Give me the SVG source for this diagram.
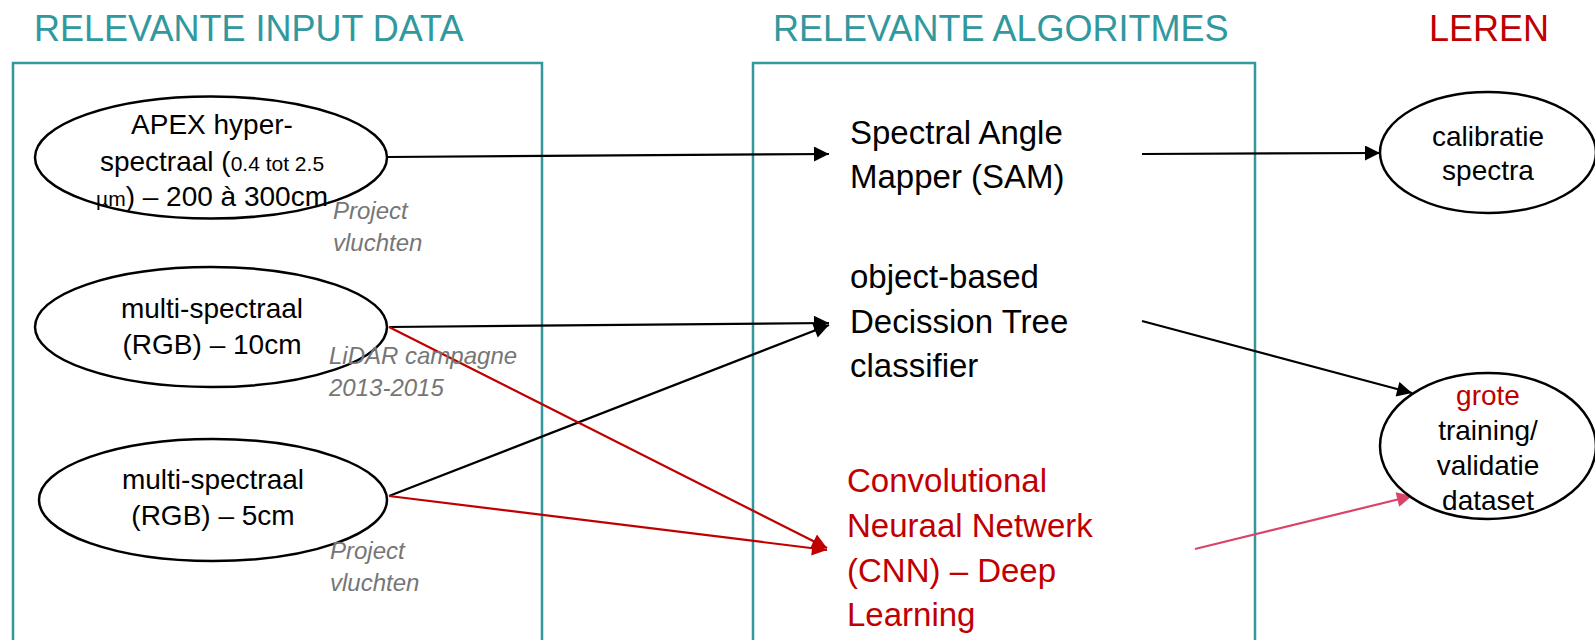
<svg xmlns="http://www.w3.org/2000/svg" width="1595" height="640" viewBox="0 0 1595 640">
<style>
.title{font-family:"Liberation Sans",Arial,sans-serif;font-size:36px;fill:#31989E}
.box{fill:none;stroke:#31989E;stroke-width:2.5}
.ell{fill:#fff;stroke:#000;stroke-width:2.5}
.t{font-family:"Liberation Sans",Arial,sans-serif;font-size:28px;fill:#000;text-anchor:middle}
.alg{font-family:"Liberation Sans",Arial,sans-serif;font-size:33px;fill:#000}
.note{font-family:"Liberation Sans",Arial,sans-serif;font-size:24px;font-style:italic;fill:#767676}
.k{stroke:#000;stroke-width:2.2;fill:none}
.r{stroke:#C00000;stroke-width:2.2;fill:none}
.p{stroke:#DA4468;stroke-width:2.2;fill:none}
.red{fill:#C00000}
</style>
<defs>
<marker id="ak" viewBox="0 0 10 10" refX="10" refY="5" markerUnits="userSpaceOnUse" markerWidth="17" markerHeight="15" orient="auto"><path d="M0,0 L10,5 L0,10 z" fill="#000"/></marker>
<marker id="ar" viewBox="0 0 10 10" refX="10" refY="5" markerUnits="userSpaceOnUse" markerWidth="17" markerHeight="15" orient="auto"><path d="M0,0 L10,5 L0,10 z" fill="#C00000"/></marker>
<marker id="ap" viewBox="0 0 10 10" refX="10" refY="5" markerUnits="userSpaceOnUse" markerWidth="17" markerHeight="15" orient="auto"><path d="M0,0 L10,5 L0,10 z" fill="#DA4468"/></marker>
</defs>
<rect width="1595" height="640" fill="#fff"/>

<g id="headers">
<text class="title" x="34" y="41">RELEVANTE INPUT DATA</text>
<text class="title" x="773" y="41">RELEVANTE ALGORITMES</text>
<text class="title red" x="1489" y="41" text-anchor="middle">LEREN</text>
</g>

<g id="boxes">
<path class="box" d="M13,660 V63 H542 V660"/>
<path class="box" d="M753,660 V63 H1255 V660"/>
</g>

<g id="connectors">
<line class="k" x1="388" y1="157" x2="829" y2="154" marker-end="url(#ak)"/>
<line class="k" x1="1142" y1="154" x2="1380" y2="153" marker-end="url(#ak)"/>
<line class="k" x1="389" y1="327" x2="829" y2="323" marker-end="url(#ak)"/>
<line class="k" x1="389" y1="496" x2="829" y2="325" marker-end="url(#ak)"/>
<line class="r" x1="389" y1="327" x2="827" y2="548" marker-end="url(#ar)"/>
<line class="r" x1="389" y1="496" x2="827" y2="550" marker-end="url(#ar)"/>
<line class="k" x1="1142" y1="321" x2="1412" y2="393" marker-end="url(#ak)"/>
<line class="p" x1="1195" y1="549" x2="1412" y2="496" marker-end="url(#ap)"/>
</g>

<g id="apex">
<ellipse class="ell" cx="211" cy="157.5" rx="176" ry="61"/>
<text class="t" x="212" y="134">APEX hyper-</text>
<text class="t" x="212" y="171">spectraal (<tspan font-size="21px">0.4 tot 2.5</tspan></text>
<text class="t" x="212" y="206"><tspan font-size="21px">µm</tspan>) – 200 à 300cm</text>
</g>

<g id="ms10">
<ellipse class="ell" cx="211" cy="327" rx="176" ry="60"/>
<text class="t" x="212" y="318">multi-spectraal</text>
<text class="t" x="212" y="354">(RGB) – 10cm</text>
</g>

<g id="ms5">
<ellipse class="ell" cx="213" cy="500" rx="174" ry="61"/>
<text class="t" x="213" y="489">multi-spectraal</text>
<text class="t" x="213" y="525">(RGB) – 5cm</text>
</g>

<g id="sam">
<text class="alg" x="850" y="144">Spectral Angle</text>
<text class="alg" x="850" y="188">Mapper (SAM)</text>
</g>

<g id="dt">
<text class="alg" x="850" y="288">object-based</text>
<text class="alg" x="850" y="333">Decission Tree</text>
<text class="alg" x="850" y="377">classifier</text>
</g>

<g id="cnn">
<text class="alg red" x="847" y="492">Convolutional</text>
<text class="alg red" x="847" y="537">Neuraal Netwerk</text>
<text class="alg red" x="847" y="582">(CNN) – Deep</text>
<text class="alg red" x="847" y="626">Learning</text>
</g>

<g id="calibratie">
<ellipse class="ell" cx="1488" cy="152.5" rx="108" ry="60.5"/>
<text class="t" x="1488" y="146" font-size="27.5px">calibratie</text>
<text class="t" x="1488" y="180" font-size="27.5px">spectra</text>
</g>

<g id="grote">
<ellipse class="ell" cx="1488" cy="446" rx="108" ry="73"/>
<text class="t red" x="1488" y="405" font-size="27.5px">grote</text>
<text class="t" x="1488" y="440" font-size="27.5px">training/</text>
<text class="t" x="1488" y="475" font-size="27.5px">validatie</text>
<text class="t" x="1488" y="510" font-size="27.5px">dataset</text>
</g>

<g id="notes">
<text class="note" x="333" y="219">Project</text>
<text class="note" x="333" y="251">vluchten</text>
<text class="note" x="329" y="364">LiDAR campagne</text>
<text class="note" x="329" y="396">2013-2015</text>
<text class="note" x="330" y="559">Project</text>
<text class="note" x="330" y="591">vluchten</text>
</g>
</svg>
